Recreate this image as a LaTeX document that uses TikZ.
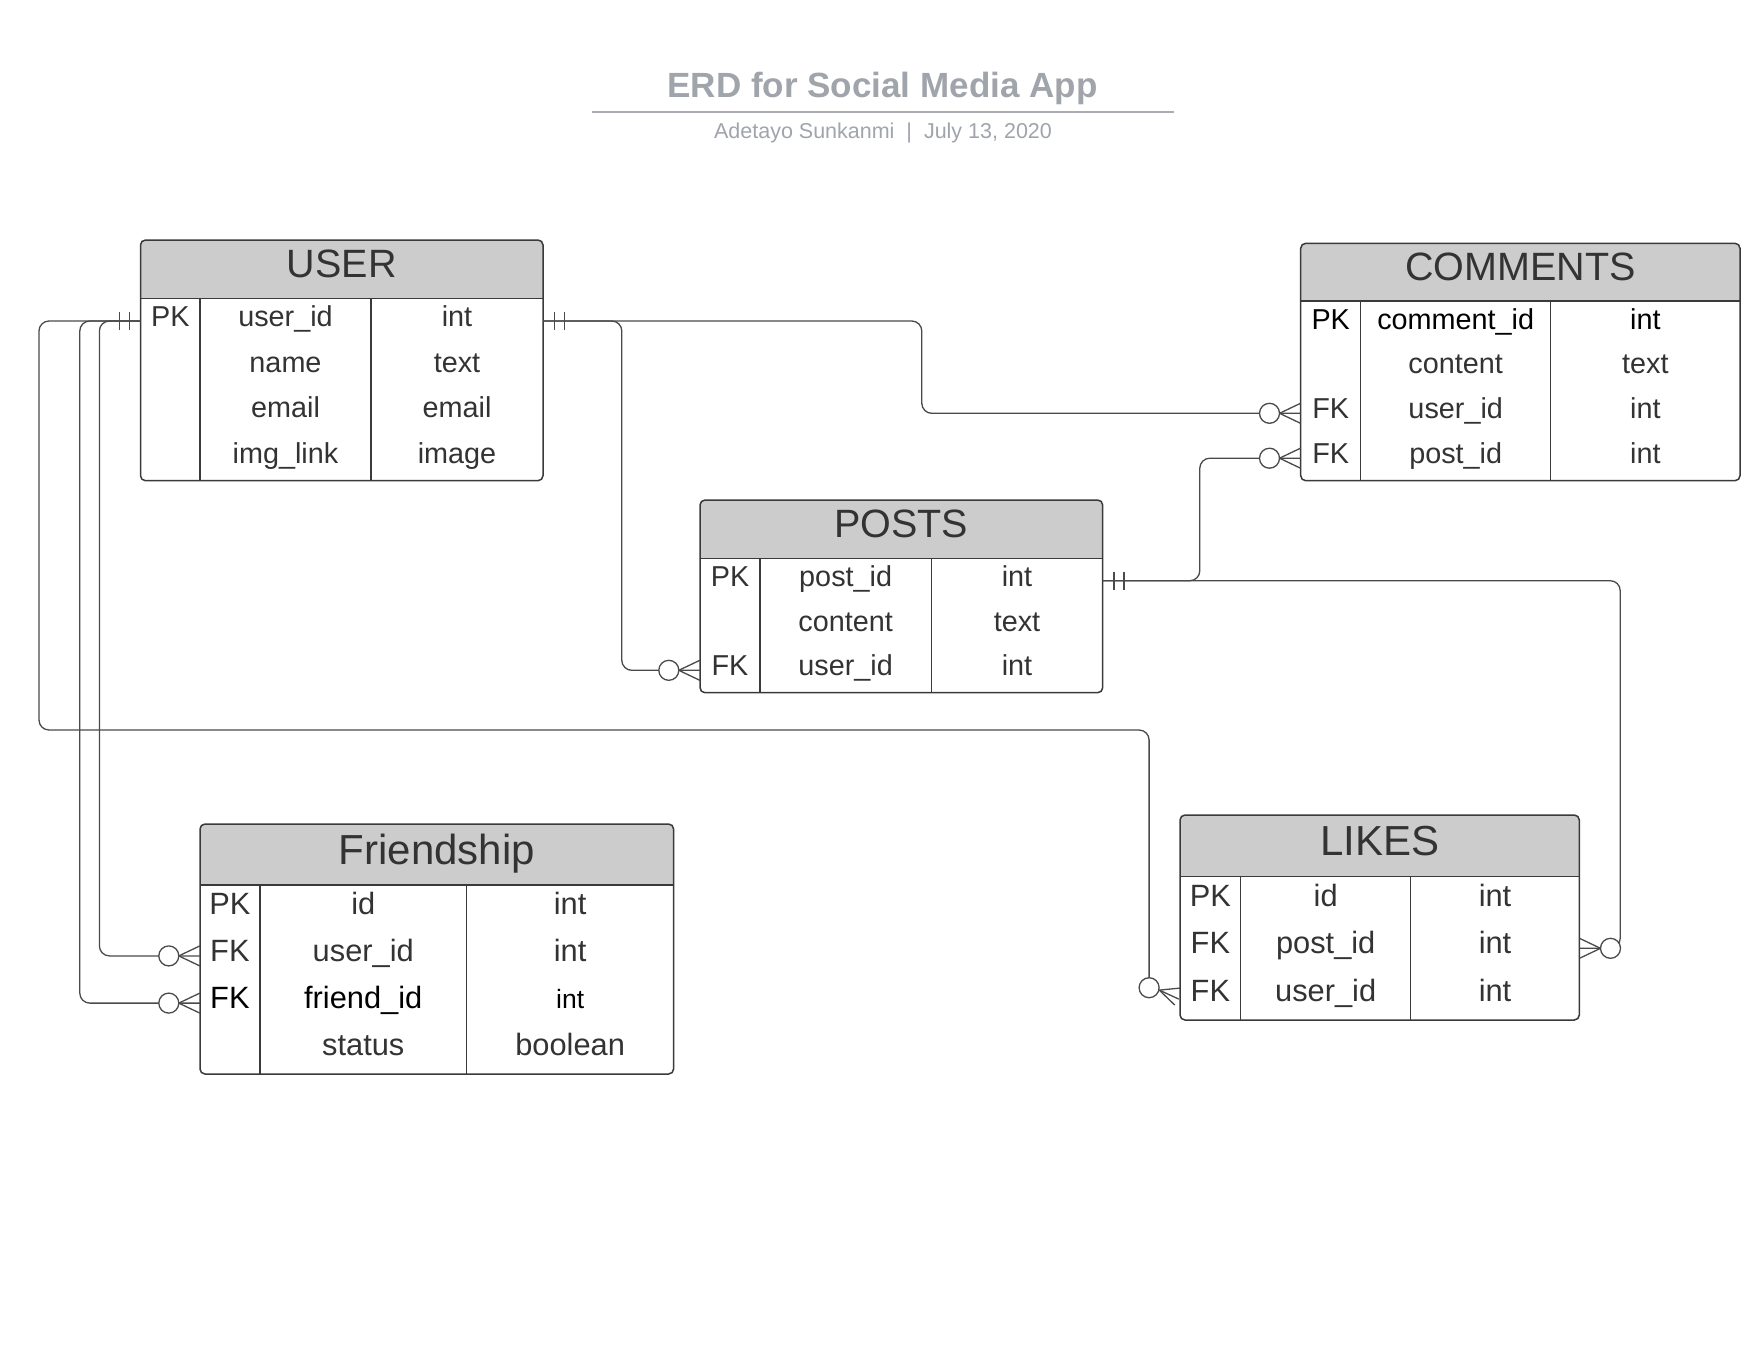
\documentclass[tikz,border=0pt]{standalone}
\usepackage{fontspec}
\setmainfont{Liberation Sans}
\usetikzlibrary{calc}
\definecolor{txt}{HTML}{333333}
\definecolor{titlegray}{HTML}{A0A4AB}
\definecolor{rulegray}{HTML}{A9ACB2}
\definecolor{headfill}{HTML}{CCCCCC}
\definecolor{linec}{HTML}{4A4A4A}
\definecolor{boxc}{HTML}{3A3A3A}
\newcommand{\rowfont}{\fontsize{28.8}{32}\selectfont}
\newcommand{\headfont}{\fontsize{39.5}{44}\selectfont}
\tikzset{
  conn/.style={draw=linec, line width=1.3pt, rounded corners=10pt},
  boxline/.style={draw=boxc, line width=1.5pt},
  rowbox/.style={inner sep=0pt, minimum height=20pt, draw=none},
  celltxt/.style={anchor=base, inner sep=0pt, text=txt, font=\rowfont},
  headtxt/.style={anchor=base, inner sep=0pt, text=txt, font=\headfont},
}
\newcommand{\tblframe}[7]{%
  \begin{scope}
    \clip[rounded corners=5pt] (#1,#2) rectangle (#3,#4);
    \fill[headfill] (#1,#2) rectangle (#3,#5);
  \end{scope}
  \draw[boxline] (#1,#5) -- (#3,#5) (#6,#5) -- (#6,#4) (#7,#5) -- (#7,#4);
  \draw[boxline, rounded corners=5pt] (#1,#2) rectangle (#3,#4);
}
\newcommand{\tblrow}[6]{%
  \node[rowbox, minimum width={\tR pt-\tL pt}] (#1-#2) at ({(\tL+\tR)/2},#3) {};
  \node[celltxt] (#1-#2k) at (\tK,#3+5.5) {#4};
  \node[celltxt] (#1-#2n) at (\tN,#3+5.5) {#5};
  \node[celltxt] (#1-#2t) at (\tT,#3+5.5) {#6};
}
\newcommand{\onemark}[2]{%
  \draw[conn] ($(#1)+(#2*11,-9)$) -- ++(0,18);
  \draw[conn] ($(#1)+(#2*21,-9)$) -- ++(0,18);
}
\newcommand{\manymark}[2]{%
  \draw[conn] ($(#1)+(#2*21,0)$) -- ($(#1)+(0,-10)$);
  \draw[conn] ($(#1)+(#2*21,0)$) -- ($(#1)+(0,10)$);
  \draw[conn, fill=white] ($(#1)+(#2*31,0)$) circle[radius=10pt];
}
\begin{document}
\begin{tikzpicture}[x=1pt, y=-1pt]
\fill[white] (0,0) rectangle (1758,1358);
\useasboundingbox (0,0) rectangle (1758,1358);

% title
\node[anchor=base, inner sep=0pt, text=titlegray, font=\fontsize{35}{40}\selectfont\bfseries] (title) at (882.5,97) {ERD for Social Media App};
\draw[rulegray, line width=1.8pt] (591.8,112.3) -- (1174,112.3);
\node[anchor=base, inner sep=0pt, text=titlegray, font=\fontsize{21.5}{24}\selectfont] (subtitle) at (883,138.5) {Adetayo Sunkanmi\ \ |\ \ July 13, 2020};

% ---------- USER
\tblframe{140.5}{240}{543}{480.7}{298.3}{200}{371}
\node[headtxt] (user) at (341.75,277.6) {USER};
\def\tL{140.5}\def\tR{543}\def\tK{170.25}\def\tN{285.5}\def\tT{457}
\tblrow{user}{1}{321}{PK}{user\_id}{int}
\tblrow{user}{2}{366.6}{}{name}{text}
\tblrow{user}{3}{412.2}{}{email}{email}
\tblrow{user}{4}{457.8}{}{img\_link}{image}

% ---------- COMMENTS
\tblframe{1300.7}{243.3}{1740}{480.7}{301}{1360.7}{1550.7}
\node[headtxt] (comments) at (1520.35,280.6) {COMMENTS};
\def\tL{1300.7}\def\tR{1740}\def\tK{1330.7}\def\tN{1455.7}\def\tT{1645.35}
\tblrow{comments}{1}{323.5}{\color{black}PK}{\color{black}comment\_id}{\color{black}int}
\tblrow{comments}{2}{368.4}{}{content}{text}
\tblrow{comments}{3}{413.3}{FK}{user\_id}{int}
\tblrow{comments}{4}{458.2}{FK}{post\_id}{int}

% ---------- POSTS
\tblframe{700}{500}{1102.7}{692.7}{558.3}{760}{931.3}
\node[headtxt] (posts) at (901.35,537.6) {POSTS};
\def\tL{700}\def\tR{1102.7}\def\tK{730}\def\tN{845.65}\def\tT{1017}
\tblrow{posts}{1}{580.7}{PK}{post\_id}{int}
\tblrow{posts}{2}{625.5}{}{content}{text}
\tblrow{posts}{3}{670.3}{FK}{user\_id}{int}

% ---------- Friendship
\renewcommand{\rowfont}{\fontsize{30.8}{34}\selectfont}
\renewcommand{\headfont}{\fontsize{42}{46}\selectfont}
\tblframe{200}{824}{673.6}{1074}{885}{259.8}{466.7}
\node[headtxt] (friend) at (436.8,864) {Friendship};
\def\tL{200}\def\tR{673.6}\def\tK{229.9}\def\tN{363.25}\def\tT{570.15}
\tblrow{friend}{1}{908.6}{PK}{id}{int}
\tblrow{friend}{2}{955.9}{FK}{user\_id}{int}
\tblrow{friend}{3}{1003.1}{\color{black}FK}{\color{black}friend\_id}{\color{black}\fontsize{26.5}{28}\selectfont int}
\tblrow{friend}{4}{1050.4}{}{status}{boolean}

% ---------- LIKES
\tblframe{1180}{815}{1579.3}{1020}{876.7}{1240.7}{1410.7}
\node[headtxt] (likes) at (1379.65,855.3) {LIKES};
\def\tL{1180}\def\tR{1579.3}\def\tK{1210.35}\def\tN{1325.7}\def\tT{1495}
\tblrow{likes}{1}{900.6}{PK}{id}{int}
\tblrow{likes}{2}{948.3}{FK}{post\_id}{int}
\tblrow{likes}{3}{996.1}{FK}{user\_id}{int}

% ---------- connectors
\draw[conn] (user-1.east) -| ([xshift=-78pt]posts-3.west) -- (posts-3.west);
\draw[conn] (user-1.east) -| ([xshift=-378.7pt]comments-3.west) -- (comments-3.west);
\draw[conn] (posts-1.east) -| ([xshift=-100.7pt]comments-4.west) -- (comments-4.west);
\draw[conn] (posts-1.east) -| ([xshift=40.7pt]likes-2.east) -- (likes-2.east);
\draw[conn] (user-1.west) -| ([xshift=-100.4pt]friend-2.west) -- (friend-2.west);
\draw[conn] (user-1.west) -| ([xshift=-120pt]friend-3.west) -- (friend-3.west);
\draw[conn] (user-1.west) -| (39,730) -| ([xshift=-30.7pt,yshift=8.4pt]likes-3.west);

% ---------- cardinality marks
\onemark{user-1.east}{1}
\onemark{user-1.west}{-1}
\onemark{posts-1.east}{1}
\manymark{posts-3.west}{-1}
\manymark{comments-3.west}{-1}
\manymark{comments-4.west}{-1}
\manymark{friend-2.west}{-1}
\manymark{friend-3.west}{-1}
\manymark{likes-2.east}{1}
\draw[conn] ([xshift=-20.5pt,yshift=6pt]likes-3.west) -- ([yshift=8pt]likes-3.west);
\draw[conn] ([xshift=-20.5pt,yshift=6pt]likes-3.west) -- ([xshift=-1pt,yshift=-3pt]likes-3.west);
\draw[conn] ([xshift=-20.5pt,yshift=6pt]likes-3.west) -- ([xshift=-5pt,yshift=-9pt]likes-3.west);
\draw[conn, fill=white] ([xshift=-30.7pt,yshift=8.4pt]likes-3.west) circle[radius=10pt];
\end{tikzpicture}
\end{document}
